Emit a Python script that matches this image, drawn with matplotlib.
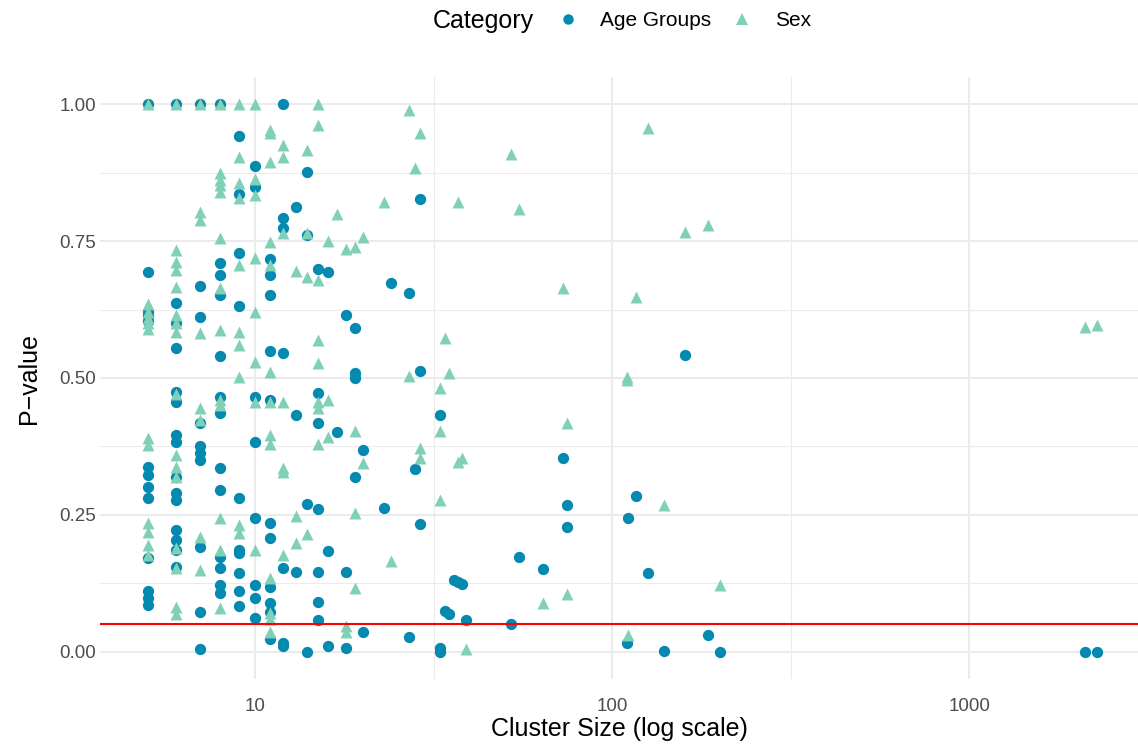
import matplotlib
matplotlib.use("Agg")
import matplotlib.pyplot as plt
from matplotlib.lines import Line2D
from matplotlib.ticker import FixedLocator, NullFormatter

plt.rcParams['font.family'] = ['Liberation Sans', 'DejaVu Sans']

# cluster sizes / p-values
age_size = ([5] * 13 + [6] * 15 + [7] * 10 + [8] * 13 + [9] * 10 + [10] * 8
            + [11] * 11 + [12] * 7 + [13] * 3 + [14] * 4 + [15] * 7 + [16] * 3
            + [17] + [18] * 3 + [19] * 4 + [20] * 2 + [23, 24] + [27] * 2 + [28]
            + [29] * 3 + [33] * 3 + [34, 35, 36, 37, 38, 39, 52, 55, 64, 73]
            + [75] * 2 + [110, 111, 117, 126, 140, 160, 186, 200, 2113, 2282])
age_p = ([1.00, 0.693, 0.62, 0.613, 0.605, 0.338, 0.323, 0.30, 0.28, 0.172, 0.11, 0.098, 0.086]
         + [1.00, 0.637, 0.60, 0.555, 0.474, 0.456, 0.396, 0.383, 0.32, 0.29, 0.277, 0.223, 0.204, 0.186, 0.155]
         + [1.00, 0.668, 0.611, 0.418, 0.376, 0.363, 0.35, 0.192, 0.073, 0.004]
         + [1.00, 0.71, 0.688, 0.651, 0.54, 0.465, 0.436, 0.336, 0.296, 0.173, 0.153, 0.122, 0.108]
         + [0.943, 0.836, 0.728, 0.631, 0.281, 0.186, 0.18, 0.144, 0.11, 0.084]
         + [0.887, 0.849, 0.465, 0.383, 0.245, 0.122, 0.098, 0.062]
         + [0.717, 0.688, 0.651, 0.549, 0.46, 0.235, 0.208, 0.119, 0.089, 0.073, 0.024]
         + [1.00, 0.792, 0.774, 0.546, 0.153, 0.016, 0.01]
         + [0.812, 0.432, 0.146]
         + [0.876, 0.761, 0.27, 0.0]
         + [0.70, 0.473, 0.418, 0.261, 0.146, 0.091, 0.058]
         + [0.693, 0.184, 0.011]
         + [0.401]
         + [0.615, 0.146, 0.007]
         + [0.591, 0.509, 0.50, 0.319]
         + [0.369, 0.035]
         + [0.263, 0.673]
         + [0.655, 0.026]
         + [0.334]
         + [0.827, 0.513, 0.234]
         + [0.432, 0.007, 0.0]
         + [0.075, 0.069, 0.13, 0.127, 0.123, 0.057, 0.051, 0.173, 0.151, 0.354]
         + [0.268, 0.228]
         + [0.015, 0.245, 0.285, 0.144, 0.001, 0.542, 0.031, 0.0, 0.0, 0.0])

sex_size = ([5] * 12 + [6] * 16 + [7] * 8 + [8] * 13 + [9] * 10 + [10] * 8
            + [11] * 13 + [12] * 7 + [13] * 3 + [14] * 4 + [15] * 8 + [16] * 3
            + [17] + [18] * 3 + [19] * 4 + [20] * 2 + [23, 24] + [27] * 2 + [28]
            + [29] * 3 + [33] * 3 + [34, 35] + [37] * 2 + [38, 39, 52, 55, 64, 73]
            + [75] * 2 + [110] * 2 + [111, 117, 126, 140, 160, 186, 200, 2113, 2282])
sex_p = ([1.00, 0.635, 0.62, 0.61, 0.60, 0.59, 0.39, 0.378, 0.235, 0.219, 0.195, 0.177]
         + [1.00, 0.734, 0.712, 0.697, 0.666, 0.615, 0.60, 0.584, 0.47, 0.36, 0.338, 0.32, 0.19, 0.152, 0.082, 0.068]
         + [1.00, 0.803, 0.788, 0.582, 0.445, 0.423, 0.21, 0.15]
         + [1.00, 0.874, 0.861, 0.852, 0.839, 0.755, 0.664, 0.588, 0.46, 0.45, 0.245, 0.186, 0.08]
         + [1.00, 0.903, 0.856, 0.828, 0.706, 0.584, 0.56, 0.502, 0.232, 0.217]
         + [1.00, 0.863, 0.834, 0.72, 0.62, 0.529, 0.456, 0.186]
         + [0.953, 0.947, 0.894, 0.748, 0.706, 0.511, 0.456, 0.396, 0.38, 0.135, 0.071, 0.06, 0.035]
         + [0.925, 0.903, 0.765, 0.456, 0.336, 0.329, 0.177]
         + [0.695, 0.247, 0.199]
         + [0.916, 0.765, 0.684, 0.215]
         + [1.00, 0.962, 0.679, 0.569, 0.527, 0.456, 0.445, 0.38]
         + [0.75, 0.46, 0.392]
         + [0.80]
         + [0.735, 0.046, 0.035]
         + [0.739, 0.403, 0.254, 0.117]
         + [0.757, 0.345]
         + [0.821, 0.166]
         + [0.989, 0.504]
         + [0.883]
         + [0.947, 0.372, 0.354]
         + [0.482, 0.403, 0.277]
         + [0.573, 0.509]
         + [0.821, 0.347]
         + [0.354, 0.005, 0.91, 0.808, 0.088, 0.664]
         + [0.418, 0.106]
         + [0.502, 0.496]
         + [0.031, 0.648, 0.956, 0.268, 0.766, 0.779, 0.122, 0.593, 0.597])

threshold = 0.05
y_ticks = [0.0, 0.25, 0.5, 0.75, 1.0]
y_labels = ["0.00", "0.25", "0.50", "0.75", "1.00"]
x_ticks = [10, 100, 1000]
x_labels = ["10", "100", "1000"]

age_col = "#0489B1"
sex_col = "#80D0B8"
grid_col = "#EBEBEB"

fig = plt.figure(figsize=(11.38, 7.44), dpi=100)
ax = fig.add_axes([100 / 1138, 65 / 744, 1038 / 1138, 602 / 744])

ax.scatter(age_size, age_p, s=66, marker='o', color=age_col, linewidths=0, zorder=3)
ax.scatter(sex_size, sex_p, s=74, marker='^', color=sex_col, linewidths=0, zorder=4)
ax.axhline(threshold, color="red", lw=1.5, zorder=5)

ax.set_xscale('log')
ax.set_xlim(10 ** 0.5658, 10 ** 3.473)
ax.set_ylim(-0.05, 1.05)

ax.xaxis.set_major_locator(FixedLocator(x_ticks))
ax.set_xticklabels(x_labels)
ax.xaxis.set_minor_locator(FixedLocator([10 ** 0.5, 10 ** 1.5, 10 ** 2.5]))
ax.xaxis.set_minor_formatter(NullFormatter())
ax.set_yticks(y_ticks)
ax.set_yticklabels(y_labels)
ax.set_yticks([0.125, 0.375, 0.625, 0.875], minor=True)

ax.grid(which='major', color=grid_col, lw=1.5, zorder=0)
ax.grid(which='minor', color=grid_col, lw=0.8, zorder=0)
ax.set_axisbelow(True)
for sp in ax.spines.values():
    sp.set_visible(False)
ax.tick_params(which='both', length=0, labelsize=13.5, labelcolor="#4D4D4D")
ax.tick_params(axis='x', pad=14)
ax.tick_params(axis='y', pad=3)

ax.set_xlabel("Cluster Size (log scale)", fontsize=18, labelpad=1)
ax.set_ylabel("P\u2212value", fontsize=18, labelpad=13)

fig.text(433 / 1138, 1 - 21 / 744, "Category", fontsize=18, ha='left', va='center')
handles = [Line2D([], [], marker='o', ls='', color=age_col, markersize=7.5, markeredgewidth=0),
           Line2D([], [], marker='^', ls='', color=sex_col, markersize=8.5, markeredgewidth=0)]
fig.legend(handles, ["Age Groups", "Sex"], ncol=2, loc='center left',
           bbox_to_anchor=(557.6 / 1138, 1 - 21 / 744), frameon=False, fontsize=15,
           handlelength=1.0, handletextpad=1.04, columnspacing=1.0,
           borderpad=0, borderaxespad=0)

fig.savefig("out.png", dpi=100)
